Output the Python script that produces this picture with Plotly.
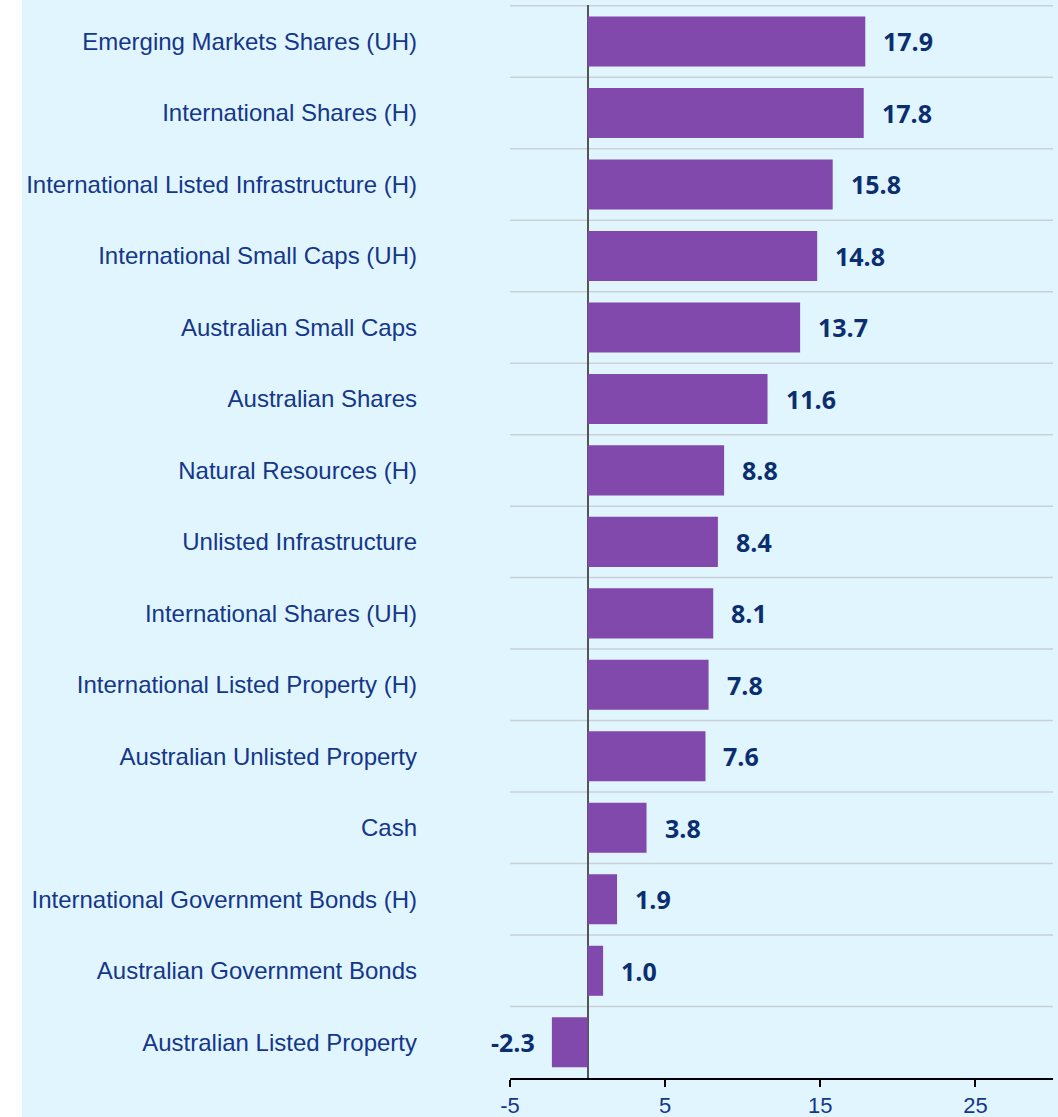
import plotly.graph_objects as go

categories = [
    "Emerging Markets Shares (UH)",
    "International Shares (H)",
    "International Listed Infrastructure (H)",
    "International Small Caps (UH)",
    "Australian Small Caps",
    "Australian Shares",
    "Natural Resources (H)",
    "Unlisted Infrastructure",
    "International Shares (UH)",
    "International Listed Property (H)",
    "Australian Unlisted Property",
    "Cash",
    "International Government Bonds (H)",
    "Australian Government Bonds",
    "Australian Listed Property",
]
values = [17.9, 17.8, 15.8, 14.8, 13.7, 11.6, 8.8, 8.4, 8.1, 7.8, 7.6, 3.8, 1.9, 1.0, -2.3]
x_ticks = [-5, 5, 15, 25]

BG = "#E1F5FE"
BAR = "#8049AB"
NAVY = "#0B2F6E"
LABEL = "#14378A"

fig = go.Figure()
fig.add_trace(go.Bar(
    x=values, y=categories, orientation="h",
    marker=dict(color=BAR, line=dict(width=0)),
    width=0.7, hoverinfo="skip",
))

annotations = []
for c, v in zip(categories, values):
    annotations.append(dict(
        x=v, y=c, xref="x", yref="y", text=f"{v:.1f}", showarrow=False,
        xanchor="left" if v >= 0 else "right",
        xshift=16 if v >= 0 else -15,
        font=dict(family="Open Sans", size=25, color=NAVY, weight="bold"),
    ))

shapes = []
for i in range(len(categories)):
    shapes.append(dict(type="line", xref="x", yref="y", x0=-5, x1=30,
                       y0=i - 0.5, y1=i - 0.5, layer="below",
                       line=dict(color="#C9D1D6", width=1.5)))
# white strip at the far left
shapes.append(dict(type="rect", xref="paper", yref="paper", x0=-1.2, x1=-488 / 543,
                   y0=-0.2, y1=1.2, fillcolor="white", line=dict(width=0), layer="below"))

fig.update_layout(
    width=1058, height=1117,
    margin=dict(l=510, r=5, t=5, b=39, autoexpand=False),
    paper_bgcolor=BG, plot_bgcolor=BG,
    showlegend=False,
    bargap=0.3,
    annotations=annotations,
    shapes=shapes,
    xaxis=dict(
        range=[-5, 30], tickvals=x_ticks, ticktext=[str(t) for t in x_ticks],
        automargin=False,
        showgrid=False, zeroline=True, zerolinecolor="#555555", zerolinewidth=1.5,
        showline=True, linecolor="black", linewidth=1.5,
        ticks="outside", ticklen=7, tickcolor="black", tickwidth=1.5,
        tickfont=dict(family="Liberation Sans, Arial", size=22, color=LABEL),
    ),
    yaxis=dict(
        type="category", categoryorder="array", categoryarray=categories,
        autorange="reversed", automargin=False,
        showgrid=False, zeroline=False, showline=False,
        ticks="", ticklabelstandoff=92,
        tickfont=dict(family="Liberation Sans, Arial", size=24, color=LABEL),
    ),
)

fig.write_html(
    "out.html",
    config={"displayModeBar": False},
    post_script="document.body.style.margin='0';document.body.style.overflow='hidden';",
)
